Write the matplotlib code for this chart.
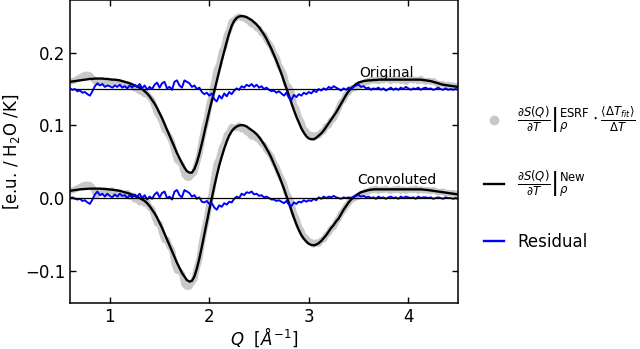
import numpy as np
import matplotlib
matplotlib.use("Agg")
from matplotlib import pyplot as plt
from matplotlib.lines import Line2D

# Q grid (A^-1), step 0.025, 157 points
q = np.linspace(0.6, 4.5, 157)

# ---- "Original" curves (drawn with +0.15 offset) ----
orig_new = [
    0.0100, 0.0105, 0.0110, 0.0115, 0.0120, 0.0125, 0.0130, 0.0135,   # 0.6
    0.0140, 0.0140, 0.0145, 0.0145, 0.0145, 0.0145, 0.0140, 0.0140,   # 0.8
    0.0135, 0.0130, 0.0130, 0.0125, 0.0120, 0.0110, 0.0100, 0.0090,   # 1.0
    0.0080, 0.0065, 0.0050, 0.0035, 0.0020, 0.0000, -0.0030, -0.0060,  # 1.2
    -0.0100, -0.0150, -0.0200, -0.0260, -0.0330, -0.0400, -0.0480, -0.0560,  # 1.4
    -0.0640, -0.0720, -0.0800, -0.0880, -0.0950, -0.1020, -0.1080, -0.1130,  # 1.6
    -0.1150, -0.1150, -0.1100, -0.1010, -0.0890, -0.0750, -0.0600, -0.0450,  # 1.8
    -0.0300, -0.0160, -0.0030, 0.0110, 0.0250, 0.0390, 0.0520, 0.0650,  # 2.0
    0.0770, 0.0870, 0.0940, 0.0980, 0.1000, 0.1005, 0.1000, 0.0990,   # 2.2
    0.0970, 0.0950, 0.0920, 0.0890, 0.0850, 0.0800, 0.0750, 0.0690,   # 2.4
    0.0620, 0.0550, 0.0470, 0.0390, 0.0300, 0.0210, 0.0110, 0.0010,   # 2.6
    -0.0090, -0.0190, -0.0290, -0.0380, -0.0460, -0.0540, -0.0600, -0.0650,  # 2.8
    -0.0680, -0.0690, -0.0690, -0.0670, -0.0640, -0.0610, -0.0570, -0.0520,  # 3.0
    -0.0470, -0.0420, -0.0370, -0.0320, -0.0260, -0.0200, -0.0140, -0.0080,  # 3.2
    -0.0030, 0.0010, 0.0040, 0.0070, 0.0090, 0.0100, 0.0110, 0.0115,  # 3.4
    0.0120, 0.0120, 0.0125, 0.0125, 0.0130, 0.0130, 0.0130, 0.0130,   # 3.6
    0.0130, 0.0130, 0.0130, 0.0130, 0.0130, 0.0130, 0.0130, 0.0130,   # 3.8
    0.0130, 0.0130, 0.0130, 0.0130, 0.0130, 0.0130, 0.0125, 0.0120,   # 4.0
    0.0115, 0.0110, 0.0100, 0.0090, 0.0080, 0.0070, 0.0060, 0.0055,   # 4.2
    0.0050, 0.0045, 0.0040, 0.0035, 0.0030,                           # 4.4
]
orig_esrf = [
    0.0100, 0.0110, 0.0120, 0.0140, 0.0160, 0.0180, 0.0195, 0.0200,
    0.0190, 0.0150, 0.0110, 0.0090, 0.0090, 0.0095, 0.0100, 0.0095,
    0.0095, 0.0100, 0.0090, 0.0090, 0.0080, 0.0080, 0.0070, 0.0065,
    0.0050, 0.0035, 0.0010, 0.0000, -0.0030, -0.0040, -0.0070, -0.0070,
    -0.0110, -0.0150, -0.0240, -0.0330, -0.0380, -0.0460, -0.0560, -0.0600,
    -0.0660, -0.0730, -0.0860, -0.0980, -0.1000, -0.1050, -0.1180, -0.1220,
    -0.1220, -0.1180, -0.1150, -0.1020, -0.0900, -0.0710, -0.0540, -0.0410,
    -0.0220, -0.0080, 0.0100, 0.0270, 0.0340, 0.0510, 0.0580, 0.0740,
    0.0810, 0.0930, 0.0950, 0.0980, 0.1000, 0.0980, 0.0980, 0.0950,
    0.0930, 0.0890, 0.0890, 0.0840, 0.0830, 0.0770, 0.0750, 0.0680,
    0.0630, 0.0580, 0.0490, 0.0440, 0.0330, 0.0270, 0.0200, 0.0060,
    0.0030, -0.0040, -0.0210, -0.0270, -0.0390, -0.0450, -0.0550, -0.0580,
    -0.0640, -0.0630, -0.0670, -0.0630, -0.0640, -0.0590, -0.0580, -0.0510,
    -0.0500, -0.0430, -0.0410, -0.0340, -0.0260, -0.0180, -0.0150, -0.0070,
    -0.0050, 0.0010, 0.0010, 0.0020, 0.0030, 0.0070, 0.0070, 0.0105,
    0.0100, 0.0130, 0.0115, 0.0125, 0.0110, 0.0140, 0.0120, 0.0150,
    0.0130, 0.0110, 0.0140, 0.0120, 0.0140, 0.0110, 0.0130, 0.0100,
    0.0120, 0.0140, 0.0120, 0.0130, 0.0110, 0.0140, 0.0115, 0.0100,
    0.0115, 0.0100, 0.0110, 0.0090, 0.0060, 0.0070, 0.0070, 0.0045,
    0.0060, 0.0045, 0.0050, 0.0035, 0.0040,
]
orig_res = [
    0.001, -0.001, 0.000, -0.003, -0.002, -0.005, -0.004, -0.007,
    -0.009, -0.003, 0.004, 0.008, 0.005, 0.007, 0.003, 0.005,
    0.004, 0.002, 0.005, 0.003, 0.006, 0.002, 0.004, 0.001,
    0.005, 0.002, 0.006, 0.003, 0.007, 0.001, 0.005, -0.001,
    0.003, 0.000, 0.006, 0.009, 0.002, 0.008, 0.010, 0.001,
    0.003, -0.001, 0.010, 0.012, 0.005, 0.002, 0.012, 0.010,
    0.008, 0.003, 0.005, 0.000, 0.002, -0.004, -0.007, -0.005,
    -0.009, -0.006, -0.014, -0.017, -0.009, -0.013, -0.006, -0.010,
    -0.004, -0.007, -0.002, 0.001, -0.001, 0.004, 0.002, 0.006,
    0.004, 0.007, 0.003, 0.006, 0.002, 0.004, 0.000, 0.002,
    -0.001, -0.003, -0.002, -0.005, -0.003, -0.006, -0.009, -0.005,
    -0.012, -0.015, -0.008, -0.011, -0.007, -0.009, -0.005, -0.007,
    -0.004, -0.006, -0.002, -0.004, 0.000, -0.002, 0.001, -0.001,
    0.003, 0.001, 0.004, 0.002, 0.000, -0.002, 0.001, -0.001,
    0.002, 0.000, 0.003, 0.005, 0.006, 0.003, 0.004, 0.001,
    0.002, -0.001, 0.001, 0.000, 0.002, -0.001, 0.001, -0.002,
    0.000, 0.002, -0.001, 0.001, -0.001, 0.002, 0.000, 0.003,
    0.001, -0.001, 0.001, 0.000, 0.002, -0.001, 0.001, 0.002,
    0.000, 0.001, -0.001, 0.000, 0.002, 0.000, -0.001, 0.001,
    -0.001, 0.000, -0.001, 0.000, -0.001,
]

# ---- "Convoluted" curves (no offset) ----
conv_new = [
    0.0100, 0.0105, 0.0110, 0.0115, 0.0120, 0.0122, 0.0125, 0.0127,
    0.0130, 0.0130, 0.0130, 0.0130, 0.0130, 0.0128, 0.0125, 0.0122,
    0.0120, 0.0115, 0.0110, 0.0105, 0.0100, 0.0090, 0.0080, 0.0070,
    0.0060, 0.0045, 0.0030, 0.0015, 0.0000, -0.0020, -0.0040, -0.0070,
    -0.0110, -0.0160, -0.0210, -0.0270, -0.0340, -0.0410, -0.0490, -0.0570,
    -0.0650, -0.0730, -0.0810, -0.0890, -0.0960, -0.1030, -0.1080, -0.1130,
    -0.1150, -0.1140, -0.1080, -0.0970, -0.0830, -0.0670, -0.0500, -0.0330,
    -0.0160, 0.0000, 0.0160, 0.0310, 0.0450, 0.0570, 0.0680, 0.0780,
    0.0860, 0.0920, 0.0960, 0.0985, 0.1000, 0.1005, 0.1000, 0.0985,
    0.0960, 0.0935, 0.0910, 0.0880, 0.0840, 0.0790, 0.0740, 0.0680,
    0.0620, 0.0550, 0.0470, 0.0390, 0.0310, 0.0220, 0.0130, 0.0030,
    -0.0070, -0.0170, -0.0270, -0.0360, -0.0440, -0.0510, -0.0560, -0.0600,
    -0.0630, -0.0645, -0.0650, -0.0640, -0.0620, -0.0590, -0.0550, -0.0510,
    -0.0460, -0.0410, -0.0370, -0.0320, -0.0280, -0.0220, -0.0160, -0.0110,
    -0.0060, -0.0020, 0.0010, 0.0040, 0.0060, 0.0080, 0.0090, 0.0100,
    0.0110, 0.0115, 0.0120, 0.0120, 0.0120, 0.0120, 0.0120, 0.0120,
    0.0120, 0.0120, 0.0120, 0.0120, 0.0120, 0.0120, 0.0120, 0.0120,
    0.0120, 0.0120, 0.0120, 0.0120, 0.0120, 0.0120, 0.0117, 0.0115,
    0.0110, 0.0105, 0.0100, 0.0095, 0.0090, 0.0085, 0.0080, 0.0075,
    0.0070, 0.0065, 0.0060, 0.0055, 0.0050,
]
conv_esrf = [
    0.0100, 0.0105, 0.0120, 0.0135, 0.0150, 0.0170, 0.0180, 0.0185,
    0.0180, 0.0150, 0.0080, 0.0040, 0.0090, 0.0070, 0.0105, 0.0062,
    0.0090, 0.0105, 0.0060, 0.0085, 0.0040, 0.0060, 0.0040, 0.0070,
    0.0020, 0.0035, -0.0020, -0.0005, -0.0060, -0.0020, -0.0080, -0.0050,
    -0.0130, -0.0150, -0.0260, -0.0350, -0.0350, -0.0480, -0.0580, -0.0570,
    -0.0670, -0.0710, -0.0900, -0.1000, -0.1000, -0.1040, -0.1190, -0.1220,
    -0.1220, -0.1160, -0.1120, -0.0960, -0.0840, -0.0620, -0.0440, -0.0290,
    -0.0080, 0.0070, 0.0290, 0.0470, 0.0550, 0.0690, 0.0750, 0.0870,
    0.0910, 0.0980, 0.0970, 0.0965, 0.1000, 0.0945, 0.0960, 0.0905,
    0.0890, 0.0845, 0.0860, 0.0820, 0.0810, 0.0750, 0.0730, 0.0660,
    0.0620, 0.0570, 0.0490, 0.0430, 0.0340, 0.0270, 0.0200, 0.0070,
    0.0020, -0.0060, -0.0210, -0.0280, -0.0390, -0.0450, -0.0530, -0.0550,
    -0.0600, -0.0605, -0.0640, -0.0610, -0.0630, -0.0580, -0.0570, -0.0510,
    -0.0480, -0.0420, -0.0400, -0.0330, -0.0280, -0.0210, -0.0170, -0.0110,
    -0.0070, -0.0020, -0.0010, 0.0010, 0.0020, 0.0060, 0.0060, 0.0090,
    0.0090, 0.0115, 0.0110, 0.0130, 0.0100, 0.0120, 0.0110, 0.0130,
    0.0110, 0.0100, 0.0120, 0.0110, 0.0130, 0.0100, 0.0120, 0.0100,
    0.0110, 0.0120, 0.0110, 0.0130, 0.0100, 0.0120, 0.0107, 0.0105,
    0.0110, 0.0095, 0.0110, 0.0095, 0.0080, 0.0085, 0.0090, 0.0065,
    0.0070, 0.0065, 0.0070, 0.0055, 0.0060,
]
conv_res = [
    0.000, 0.001, -0.001, -0.002, -0.001, -0.004, -0.003, -0.006,
    -0.008, -0.002, 0.005, 0.009, 0.004, 0.006, 0.002, 0.006,
    0.003, 0.001, 0.005, 0.002, 0.006, 0.003, 0.004, 0.000,
    0.004, 0.001, 0.005, 0.002, 0.006, 0.000, 0.004, -0.002,
    0.002, -0.001, 0.005, 0.008, 0.001, 0.007, 0.009, 0.000,
    0.002, -0.002, 0.009, 0.011, 0.004, 0.001, 0.011, 0.009,
    0.007, 0.002, 0.004, -0.001, 0.001, -0.005, -0.006, -0.004,
    -0.008, -0.007, -0.013, -0.016, -0.010, -0.012, -0.007, -0.009,
    -0.005, -0.006, -0.001, 0.002, 0.000, 0.006, 0.004, 0.008,
    0.007, 0.009, 0.005, 0.006, 0.003, 0.004, 0.001, 0.002,
    0.000, -0.002, -0.002, -0.004, -0.003, -0.005, -0.007, -0.004,
    -0.009, -0.011, -0.006, -0.008, -0.005, -0.006, -0.003, -0.005,
    -0.003, -0.004, -0.001, -0.003, 0.001, -0.001, 0.002, 0.000,
    0.002, 0.001, 0.003, 0.001, 0.000, -0.001, 0.001, 0.000,
    0.001, 0.000, 0.002, 0.003, 0.004, 0.002, 0.003, 0.001,
    0.002, 0.000, 0.001, -0.001, 0.002, 0.000, 0.001, -0.001,
    0.001, 0.002, 0.000, 0.001, -0.001, 0.002, 0.000, 0.002,
    0.001, 0.000, 0.001, -0.001, 0.002, 0.000, 0.001, 0.001,
    0.000, 0.001, -0.001, 0.000, 0.001, 0.000, -0.001, 0.001,
    0.000, 0.000, -0.001, 0.000, -0.001,
]

offsets = {"Original": 0.15, "Convoluted": 0.0}
gray = "#c8c8c8"

fig = plt.figure(figsize=(6.4, 3.49), dpi=100)
ax = fig.add_axes([0.1094, 0.1327, 0.6063, 0.866])

for name, esrf, new, res in [("Original", orig_esrf, orig_new, orig_res),
                             ("Convoluted", conv_esrf, conv_new, conv_res)]:
    off = offsets[name]
    ax.plot(q, np.array(esrf) + off, color=gray, lw=4.5,
            solid_capstyle="round", solid_joinstyle="round", zorder=1)
    ax.plot(q, np.array(new) + off, color="k", lw=1.7, zorder=2)
    ax.plot(q, np.array(res) + off, color="blue", lw=1.4, zorder=3)
    ax.axhline(off, color="k", lw=0.9, zorder=4)

ax.text(3.51, 0.167, "Original", fontsize=10)
ax.text(3.49, 0.020, "Convoluted", fontsize=10)

ax.set_xlim(0.6, 4.5)
ax.set_ylim(-0.144, 0.272)
ax.set_xticks([1, 2, 3, 4])
ax.set_yticks([-0.1, 0.0, 0.1, 0.2])
ax.tick_params(direction="in", top=True, right=True, length=4, width=1,
               labelsize=12)
for s in ax.spines.values():
    s.set_linewidth(1.1)

ax.set_xlabel(r"$Q$  $[\AA^{-1}]$", fontsize=12, labelpad=0)
ax.set_ylabel(r"[e.u. / H$_2$O /K]", fontsize=12, labelpad=2)

handles = [
    Line2D([], [], ls="none", marker="o", ms=6, color=gray),
    Line2D([], [], color="k", lw=1.7),
    Line2D([], [], color="blue", lw=1.7),
]
labels = [
    r"$\left.\frac{\partial S(Q)}{\partial T}\right|_{\rho}^{\rm ESRF}\cdot\frac{\langle\Delta T_{fit}\rangle}{\Delta T}$",
    r"$\left.\frac{\partial S(Q)}{\partial T}\right|_{\rho}^{\rm New}$",
    "Residual",
]
fig.legend(handles, labels, loc="center left", bbox_to_anchor=(0.733, 0.491),
           frameon=False, fontsize=12, handlelength=1.2, handletextpad=0.8,
           labelspacing=1.96)

plt.savefig("out.png", dpi=100)
plt.close()
